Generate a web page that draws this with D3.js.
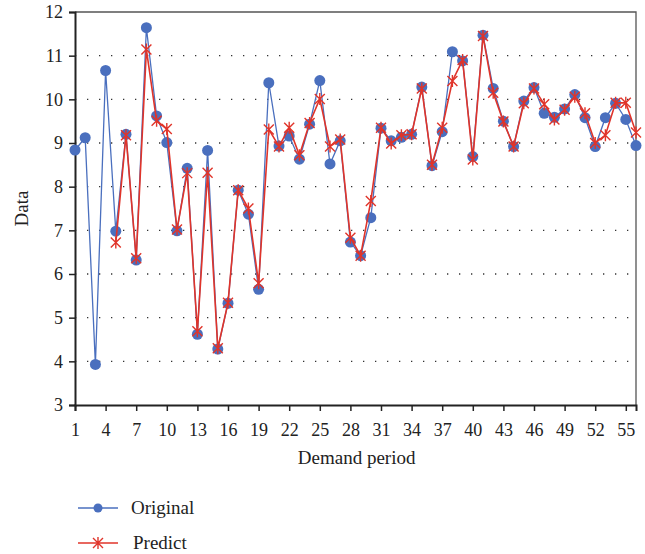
<!DOCTYPE html>
<html>
<head>
<meta charset="utf-8">
<script src="https://cdn.jsdelivr.net/npm/d3@7"></script>
<style>
  body { margin: 0; background: #fff; }
  text { font-family: "Liberation Serif", "DejaVu Serif", serif; fill: #222; }
</style>
</head>
<body>
<div id="chart"></div>
<script>
// demand periods 1..56, predict starts at period 5
var periods = d3.range(1, 57);
var original = [8.84, 9.12, 3.93, 10.66, 6.98, 9.2, 6.32, 11.64, 9.62, 9.01,
  6.99, 8.42, 4.62, 8.83, 4.28, 5.33, 7.92, 7.37, 5.65, 10.38,
  8.93, 9.16, 8.63, 9.43, 10.43, 8.52, 9.05, 6.73, 6.42, 7.29,
  9.34, 9.05, 9.13, 9.2, 10.28, 8.48, 9.26, 11.09, 10.88, 8.69,
  11.47, 10.25, 9.5, 8.92, 9.96, 10.27, 9.68, 9.59, 9.78, 10.11,
  9.58, 8.92, 9.58, 9.91, 9.54, 8.94];
var predict = [null, null, null, null, 6.72, 9.18, 6.36, 11.14, 9.51, 9.32,
  7.02, 8.31, 4.69, 8.32, 4.3, 5.34, 7.92, 7.5, 5.79, 9.31,
  8.92, 9.35, 8.72, 9.46, 10.01, 8.92, 9.08, 6.83, 6.42, 7.67,
  9.35, 8.99, 9.18, 9.2, 10.25, 8.5, 9.35, 10.42, 10.9, 8.62,
  11.45, 10.15, 9.49, 8.92, 9.91, 10.25, 9.89, 9.54, 9.76, 10.06,
  9.68, 9.0, 9.18, 9.92, 9.92, 9.24];
var xTicks = d3.range(1, 56, 3);
var yTicks = d3.range(3, 13);

var blue = "#4a6fbe", red = "#e0342a";

var margin = { top: 12, right: 9, bottom: 149, left: 75 };
var width = 645 - margin.left - margin.right;
var height = 554 - margin.top - margin.bottom;

var svg = d3.select("#chart").append("svg")
    .attr("width", 645)
    .attr("height", 554);

var g = svg.append("g").attr("transform", "translate(" + margin.left + "," + margin.top + ")");

var x = d3.scaleLinear().domain([1, 56]).range([0, width]);
var y = d3.scaleLinear().domain([3, 12]).range([height, 0]);

// dotted gridlines
g.append("g").selectAll("line")
  .data(yTicks.filter(function(d) { return d > 3 && d < 12; }))
  .enter().append("line")
  .attr("x1", 0).attr("x2", width)
  .attr("y1", function(d) { return y(d); })
  .attr("y2", function(d) { return y(d); })
  .attr("stroke", "#333")
  .attr("stroke-width", 1.3)
  .attr("stroke-dasharray", "1.3,10.7");

// frame top/right
g.append("path")
  .attr("d", "M0," + y(12) + "H" + width + "V" + height)
  .attr("fill", "none").attr("stroke", "#555").attr("stroke-width", 1.3);

// axes
var yAxis = g.append("g")
  .call(d3.axisLeft(y).tickValues(yTicks).tickSize(6).tickPadding(6));
var xAxis = g.append("g")
  .attr("transform", "translate(0," + height + ")")
  .call(d3.axisBottom(x).tickValues(xTicks).tickSize(6).tickPadding(12));

[xAxis, yAxis].forEach(function(a) {
  a.select(".domain").attr("stroke", "#222").attr("stroke-width", 2);
  a.selectAll(".tick line").attr("stroke", "#222").attr("stroke-width", 1.5);
  a.selectAll(".tick text").style("font-family", "Liberation Serif, serif")
    .style("font-size", "18px").attr("fill", "#222");
});

// axis titles
g.append("text")
  .attr("x", x(29) - 4).attr("y", height + 59)
  .attr("text-anchor", "middle").style("font-size", "19px")
  .text("Demand period");
g.append("text")
  .attr("transform", "translate(" + (-47) + "," + (y(7.5)) + ") rotate(-90)")
  .attr("text-anchor", "middle").style("font-size", "19px")
  .text("Data");

// series
var line = d3.line()
  .defined(function(d) { return d[1] != null; })
  .x(function(d) { return x(d[0]); })
  .y(function(d) { return y(d[1]); });

var origData = periods.map(function(p, i) { return [p, original[i]]; });
var predData = periods.map(function(p, i) { return [p, predict[i]]; })
  .filter(function(d) { return d[1] != null; });

g.append("path").datum(origData)
  .attr("d", line).attr("fill", "none")
  .attr("stroke", blue).attr("stroke-width", 1.3);
g.append("g").selectAll("circle").data(origData).enter().append("circle")
  .attr("cx", function(d) { return x(d[0]); })
  .attr("cy", function(d) { return y(d[1]); })
  .attr("r", 5.5).attr("fill", blue);

g.append("path").datum(predData)
  .attr("d", line).attr("fill", "none")
  .attr("stroke", red).attr("stroke-width", 1.6);

function star(sel, s) {
  sel.attr("d", "M" + (-s) + "," + (-s) + "L" + s + "," + s +
      "M" + (-s) + "," + s + "L" + s + "," + (-s) +
      "M0," + (-s * 1.2) + "V" + (s * 1.2))
    .attr("fill", "none").attr("stroke", red).attr("stroke-width", 1.4);
}
g.append("g").selectAll("path").data(predData).enter().append("path")
  .attr("transform", function(d) { return "translate(" + x(d[0]) + "," + y(d[1]) + ")"; })
  .call(star, 5);

// legend
var leg = svg.append("g").attr("transform", "translate(78,508)");
leg.append("line").attr("x1", 0).attr("x2", 40).attr("stroke", blue).attr("stroke-width", 1.3);
leg.append("circle").attr("cx", 20).attr("r", 4.5).attr("fill", blue);
leg.append("text").attr("x", 53).attr("y", 6).style("font-size", "19px").text("Original");

var leg2 = svg.append("g").attr("transform", "translate(78,543)");
leg2.append("line").attr("x1", 0).attr("x2", 40).attr("stroke", red).attr("stroke-width", 1.6);
leg2.append("path").attr("transform", "translate(20,0)").call(star, 5);
leg2.append("text").attr("x", 55).attr("y", 6).style("font-size", "19px").text("Predict");
</script>
</body>
</html>
